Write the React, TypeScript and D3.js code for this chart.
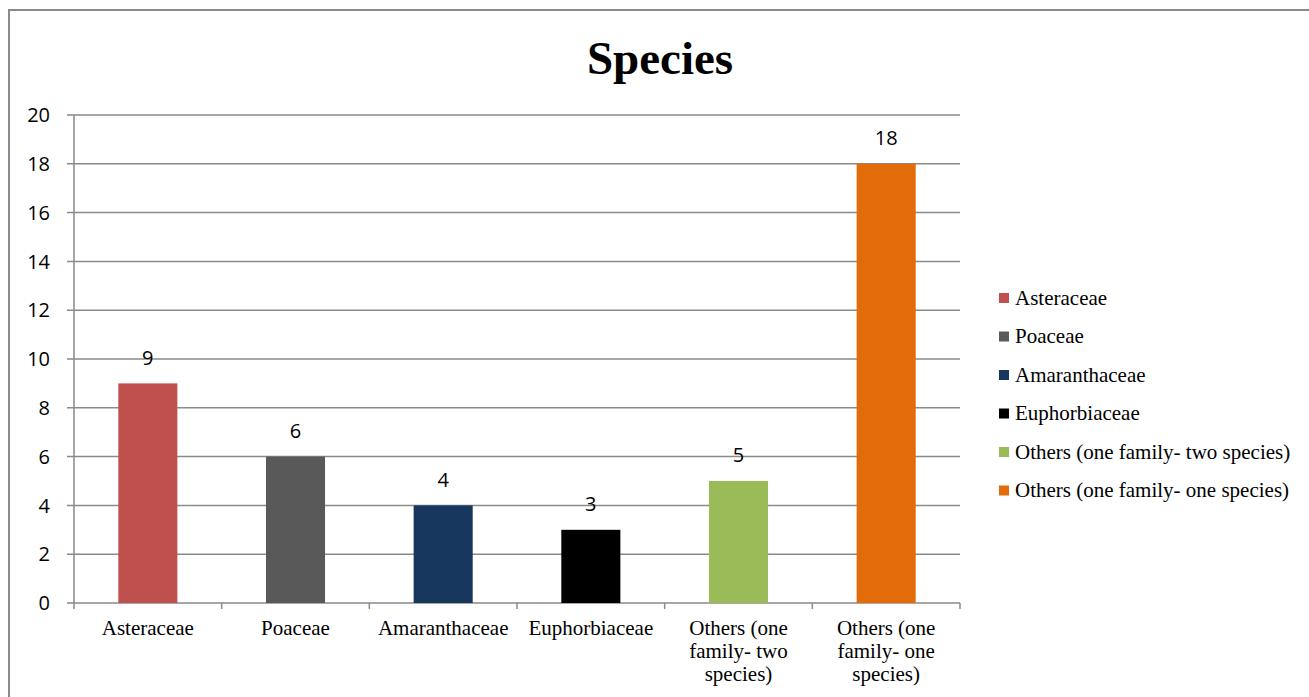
import React from "react";
import * as d3 from "d3";

const categories = [
  "Asteraceae",
  "Poaceae",
  "Amaranthaceae",
  "Euphorbiaceae",
  "Others (one family- two species)",
  "Others (one family- one species)",
];
const axisLabels = [
  ["Asteraceae"],
  ["Poaceae"],
  ["Amaranthaceae"],
  ["Euphorbiaceae"],
  ["Others (one", "family- two", "species)"],
  ["Others (one", "family- one", "species)"],
];
const values = [9, 6, 4, 3, 5, 18];
const colors = ["#C0504D", "#595959", "#17375E", "#000000", "#9BBB59", "#E36C0A"];
const yTicks = [0, 2, 4, 6, 8, 10, 12, 14, 16, 18, 20];
const title = "Species";

const W = 1309;
const H = 697;
const plotLeft = 74;
const plotRight = 960;
const plotTop = 115;
const plotBottom = 603;

export default function App() {
  const x = d3.scaleBand<string>().domain(categories).range([plotLeft, plotRight]).paddingInner(0).paddingOuter(0);
  const y = d3.scaleLinear().domain([0, 20]).range([plotBottom, plotTop]);
  const bw = x.bandwidth() * 0.4;
  const serif = "'Liberation Serif', 'Times New Roman', serif";
  const sans = "'Open Sans', 'DejaVu Sans', sans-serif";
  const grid = "#8a8a8a";
  return (
    <svg width={W} height={H} style={{ position: "absolute", left: 0, top: 0, background: "#fff" }}>
      <rect x={9} y={10} width={W + 20} height={H + 20} fill="none" stroke="#8a8a8a" strokeWidth={2} />
      <text x={660} y={74} textAnchor="middle" fontFamily={serif} fontWeight="bold" fontSize={47}>
        {title}
      </text>
      {yTicks.map((t) => (
        <g key={t}>
          <line x1={67} x2={plotRight} y1={y(t)} y2={y(t)} stroke={grid} strokeWidth={1.5} />
          <text x={50} y={y(t)} dy="0.36em" textAnchor="end" fontFamily={sans} fontSize={20} fill="#000">
            {t}
          </text>
        </g>
      ))}
      <line x1={plotLeft} x2={plotLeft} y1={plotTop} y2={plotBottom + 6} stroke={grid} strokeWidth={1.5} />
      {categories.map((c, i) => (
        <line key={"tk" + i} x1={(x(c) as number) + x.bandwidth()} x2={(x(c) as number) + x.bandwidth()} y1={plotBottom} y2={plotBottom + 6} stroke={grid} strokeWidth={1.5} />
      ))}
      {categories.map((c, i) => {
        const cx = (x(c) as number) + x.bandwidth() / 2;
        return (
          <g key={c}>
            <rect x={cx - bw / 2} y={y(values[i])} width={bw} height={y(0) - y(values[i])} fill={colors[i]} />
            <text x={cx} y={y(values[i]) - 26} dy="0.36em" textAnchor="middle" fontFamily={sans} fontSize={20}>
              {values[i]}
            </text>
            {axisLabels[i].map((l, j) => (
              <text key={j} x={cx} y={628 + j * 23} dy="0.33em" textAnchor="middle" fontFamily={serif} fontSize={21}>
                {l}
              </text>
            ))}
          </g>
        );
      })}
      {categories.map((c, i) => {
        const ly = 298 + i * 38.5;
        return (
          <g key={"lg" + i}>
            <rect x={999} y={ly - 5} width={10} height={10} fill={colors[i]} />
            <text x={1015} y={ly} dy="0.33em" fontFamily={serif} fontSize={21}>
              {c}
            </text>
          </g>
        );
      })}
    </svg>
  );
}
